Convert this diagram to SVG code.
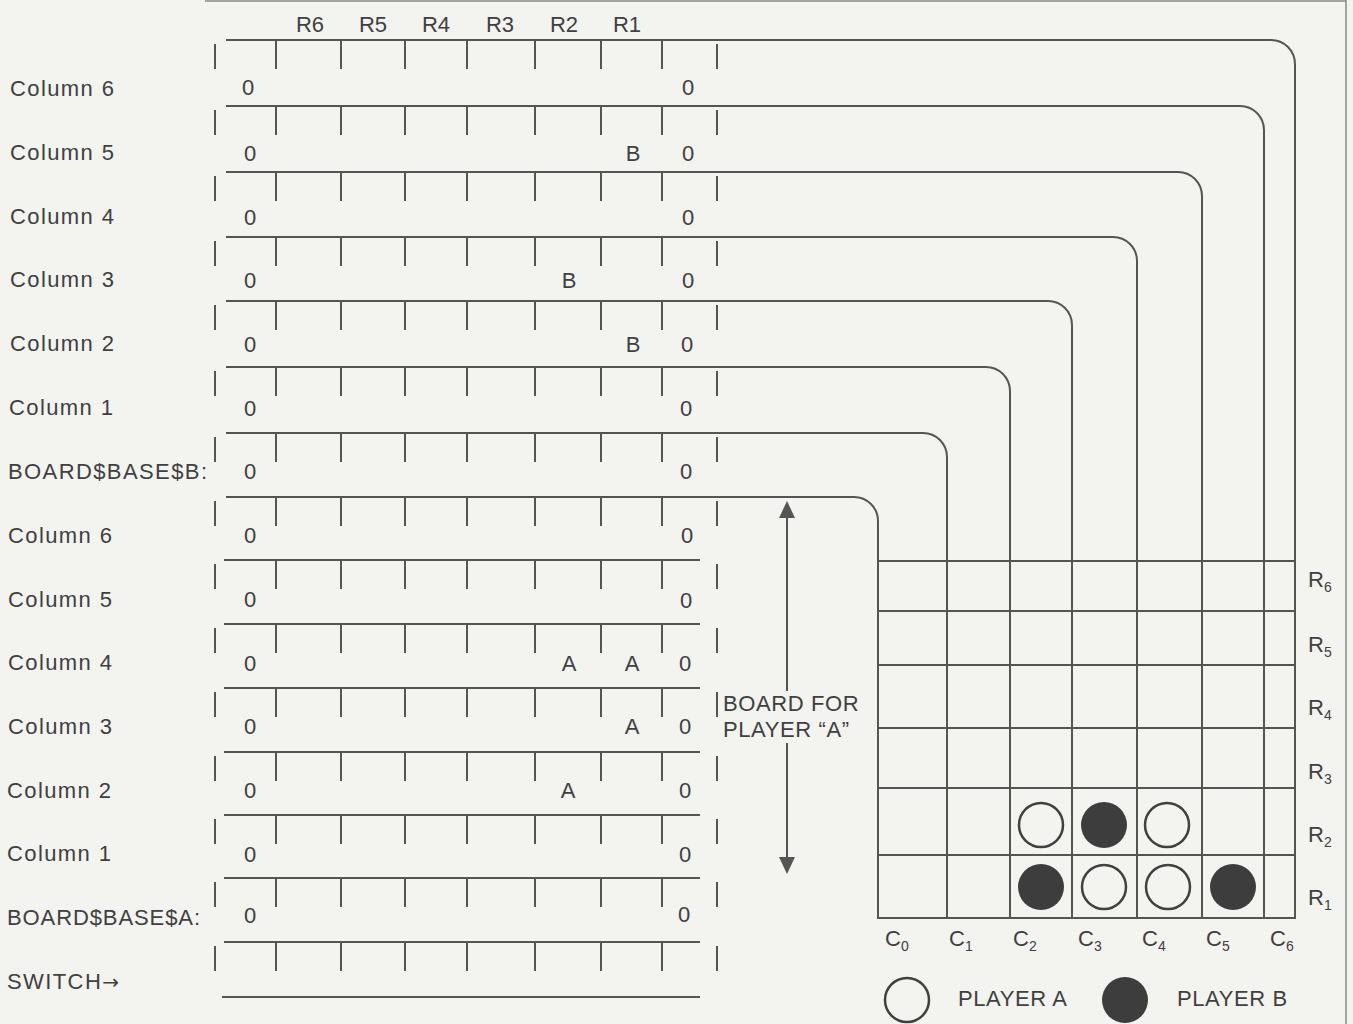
<svg xmlns="http://www.w3.org/2000/svg" width="1353" height="1024" viewBox="0 0 1353 1024">
<defs>
<style>
.ln{stroke:#555;stroke-width:2;fill:none;stroke-linecap:butt}
.tk{stroke:#555;stroke-width:2}
.t{font-family:"Liberation Sans",Arial,sans-serif;font-size:22px;fill:#404040;letter-spacing:1.4px}
.z{font-family:"Liberation Sans",Arial,sans-serif;font-size:22px;fill:#404040;text-anchor:middle}
.s{font-size:14px}
.open{fill:none;stroke:#404040;stroke-width:2.5}
.fill{fill:#3d3d3d}
.ah{fill:#555}
</style>
<g id="ticks">
<line class="tk" x1="276" y1="0" x2="276" y2="29"/>
<line class="tk" x1="341" y1="0" x2="341" y2="29"/>
<line class="tk" x1="405" y1="0" x2="405" y2="29"/>
<line class="tk" x1="467" y1="0" x2="467" y2="29"/>
<line class="tk" x1="535" y1="0" x2="535" y2="29"/>
<line class="tk" x1="601" y1="0" x2="601" y2="29"/>
<line class="tk" x1="662" y1="0" x2="662" y2="29"/>
<line class="tk" x1="215" y1="4" x2="215" y2="29"/>
<line class="tk" x1="717" y1="4" x2="717" y2="29"/>
</g>
</defs>
<rect width="1353" height="1024" fill="#f3f3f0"/>
<line x1="205" y1="1" x2="1346" y2="1" stroke="#888" stroke-width="1.5"/>
<line x1="1346" y1="0" x2="1346" y2="1024" stroke="#888" stroke-width="1.5"/>

<g id="header">
<text class="z" x="310" y="32">R6</text>
<text class="z" x="373" y="32">R5</text>
<text class="z" x="436" y="32">R4</text>
<text class="z" x="500" y="32">R3</text>
<text class="z" x="564" y="32">R2</text>
<text class="z" x="627" y="32">R1</text>
</g>

<g id="connectors">
<path class="ln" d="M226,40 H1271 A24,24 0 0 1 1295,64 V918"/>
<path class="ln" d="M226,106 H1240 A24,24 0 0 1 1264,130 V918"/>
<path class="ln" d="M226,172 H1178 A24,24 0 0 1 1202,196 V918"/>
<path class="ln" d="M226,237 H1113 A24,24 0 0 1 1137,261 V918"/>
<path class="ln" d="M226,301 H1048 A24,24 0 0 1 1072,325 V918"/>
<path class="ln" d="M226,367 H986 A24,24 0 0 1 1010,391 V918"/>
<path class="ln" d="M226,433 H923 A24,24 0 0 1 947,457 V918"/>
<path class="ln" d="M226,497 H854 A24,24 0 0 1 878,521 V918"/>
<line class="ln" x1="224" y1="560" x2="700" y2="560"/>
<line class="ln" x1="224" y1="624" x2="700" y2="624"/>
<line class="ln" x1="224" y1="688" x2="700" y2="688"/>
<line class="ln" x1="224" y1="752" x2="700" y2="752"/>
<line class="ln" x1="224" y1="815" x2="700" y2="815"/>
<line class="ln" x1="224" y1="878" x2="700" y2="878"/>
<line class="ln" x1="224" y1="942" x2="700" y2="942"/>
<line class="ln" x1="222" y1="997" x2="700" y2="997"/>
<line class="ln" x1="787" y1="515" x2="787" y2="691"/>
<line class="ln" x1="787" y1="743" x2="787" y2="860"/>
<polygon class="ah" points="787,501 795,518 779,518"/>
<polygon class="ah" points="787,874 795,857 779,857"/>
</g>

<g id="row-col6-b"><use href="#ticks" y="40"/><text class="t" x="10" y="96">Column 6</text><text class="z" x="248" y="95">0</text><text class="z" x="688" y="95">0</text></g>
<g id="row-col5-b"><use href="#ticks" y="106"/><text class="t" x="10" y="160">Column 5</text><text class="z" x="250" y="161">0</text><text class="z" x="633" y="161">B</text><text class="z" x="688" y="161">0</text></g>
<g id="row-col4-b"><use href="#ticks" y="172"/><text class="t" x="10" y="224">Column 4</text><text class="z" x="250" y="225">0</text><text class="z" x="688" y="225">0</text></g>
<g id="row-col3-b"><use href="#ticks" y="237"/><text class="t" x="10" y="287">Column 3</text><text class="z" x="250" y="288">0</text><text class="z" x="569" y="288">B</text><text class="z" x="688" y="288">0</text></g>
<g id="row-col2-b"><use href="#ticks" y="301"/><text class="t" x="10" y="351">Column 2</text><text class="z" x="250" y="352">0</text><text class="z" x="633" y="352">B</text><text class="z" x="687" y="352">0</text></g>
<g id="row-col1-b"><use href="#ticks" y="367"/><text class="t" x="9" y="415">Column 1</text><text class="z" x="250" y="416">0</text><text class="z" x="686" y="416">0</text></g>
<g id="row-base-b"><use href="#ticks" y="433"/><text class="t" x="8" y="479">BOARD$BASE$B:</text><text class="z" x="250" y="479">0</text><text class="z" x="686" y="479">0</text></g>
<g id="row-col6-a"><use href="#ticks" y="497"/><text class="t" x="8" y="543">Column 6</text><text class="z" x="250" y="543">0</text><text class="z" x="687" y="543">0</text></g>
<g id="row-col5-a"><use href="#ticks" y="560"/><text class="t" x="8" y="607">Column 5</text><text class="z" x="250" y="607">0</text><text class="z" x="686" y="608">0</text></g>
<g id="row-col4-a"><use href="#ticks" y="624"/><text class="t" x="8" y="670">Column 4</text><text class="z" x="250" y="671">0</text><text class="z" x="569" y="671">A</text><text class="z" x="632" y="671">A</text><text class="z" x="685" y="671">0</text></g>
<g id="row-col3-a"><use href="#ticks" y="688"/><text class="t" x="8" y="734">Column 3</text><text class="z" x="250" y="734">0</text><text class="z" x="632" y="734">A</text><text class="z" x="685" y="734">0</text></g>
<g id="row-col2-a"><use href="#ticks" y="752"/><text class="t" x="7" y="798">Column 2</text><text class="z" x="250" y="798">0</text><text class="z" x="568" y="798">A</text><text class="z" x="685" y="798">0</text></g>
<g id="row-col1-a"><use href="#ticks" y="815"/><text class="t" x="7" y="861">Column 1</text><text class="z" x="250" y="862">0</text><text class="z" x="685" y="862">0</text></g>
<g id="row-base-a"><use href="#ticks" y="878"/><text class="t" x="7" y="925" style="letter-spacing:0.9px">BOARD$BASE$A:</text><text class="z" x="250" y="923">0</text><text class="z" x="684" y="922">0</text></g>
<g id="row-switch"><use href="#ticks" y="942"/><text class="t" x="7" y="989">SWITCH<tspan style="font-family:'DejaVu Sans',sans-serif;font-size:20px;letter-spacing:0">→</tspan></text></g>

<g id="board-label">
<text class="t" x="723" y="711" style="letter-spacing:0.6px">BOARD FOR</text>
<text class="t" x="723" y="737" style="letter-spacing:0.6px">PLAYER “A”</text>
</g>

<g id="grid">
<line class="ln" x1="878" y1="561" x2="1295" y2="561"/>
<line class="ln" x1="878" y1="611" x2="1295" y2="611"/>
<line class="ln" x1="878" y1="665" x2="1295" y2="665"/>
<line class="ln" x1="878" y1="728" x2="1295" y2="728"/>
<line class="ln" x1="878" y1="788" x2="1295" y2="788"/>
<line class="ln" x1="878" y1="855" x2="1295" y2="855"/>
<line class="ln" x1="877" y1="918" x2="1296" y2="918"/>
<text class="z" x="1308" y="587" style="text-anchor:start">R<tspan class="s" dy="5">6</tspan></text>
<text class="z" x="1308" y="652" style="text-anchor:start">R<tspan class="s" dy="5">5</tspan></text>
<text class="z" x="1308" y="715" style="text-anchor:start">R<tspan class="s" dy="5">4</tspan></text>
<text class="z" x="1308" y="779" style="text-anchor:start">R<tspan class="s" dy="5">3</tspan></text>
<text class="z" x="1308" y="842" style="text-anchor:start">R<tspan class="s" dy="5">2</tspan></text>
<text class="z" x="1308" y="905" style="text-anchor:start">R<tspan class="s" dy="5">1</tspan></text>
<text class="z" x="885" y="946" style="text-anchor:start">C<tspan class="s" dy="5">0</tspan></text>
<text class="z" x="949" y="946" style="text-anchor:start">C<tspan class="s" dy="5">1</tspan></text>
<text class="z" x="1013" y="946" style="text-anchor:start">C<tspan class="s" dy="5">2</tspan></text>
<text class="z" x="1078" y="946" style="text-anchor:start">C<tspan class="s" dy="5">3</tspan></text>
<text class="z" x="1142" y="946" style="text-anchor:start">C<tspan class="s" dy="5">4</tspan></text>
<text class="z" x="1206" y="946" style="text-anchor:start">C<tspan class="s" dy="5">5</tspan></text>
<text class="z" x="1270" y="946" style="text-anchor:start">C<tspan class="s" dy="5">6</tspan></text>
</g>

<g id="pieces">
<circle class="open" cx="1041" cy="825" r="22"/>
<circle class="fill" cx="1104" cy="825" r="23"/>
<circle class="open" cx="1167" cy="825" r="22"/>
<circle class="fill" cx="1041" cy="887" r="23"/>
<circle class="open" cx="1104" cy="887" r="22"/>
<circle class="open" cx="1168" cy="887" r="22"/>
<circle class="fill" cx="1233" cy="887" r="23"/>
</g>

<g id="legend">
<circle class="open" cx="907" cy="1000" r="22"/>
<text class="t" x="958" y="1006" style="letter-spacing:0.6px">PLAYER A</text>
<circle class="fill" cx="1125" cy="1000" r="23"/>
<text class="t" x="1177" y="1006" style="letter-spacing:0.6px">PLAYER B</text>
</g>
</svg>
